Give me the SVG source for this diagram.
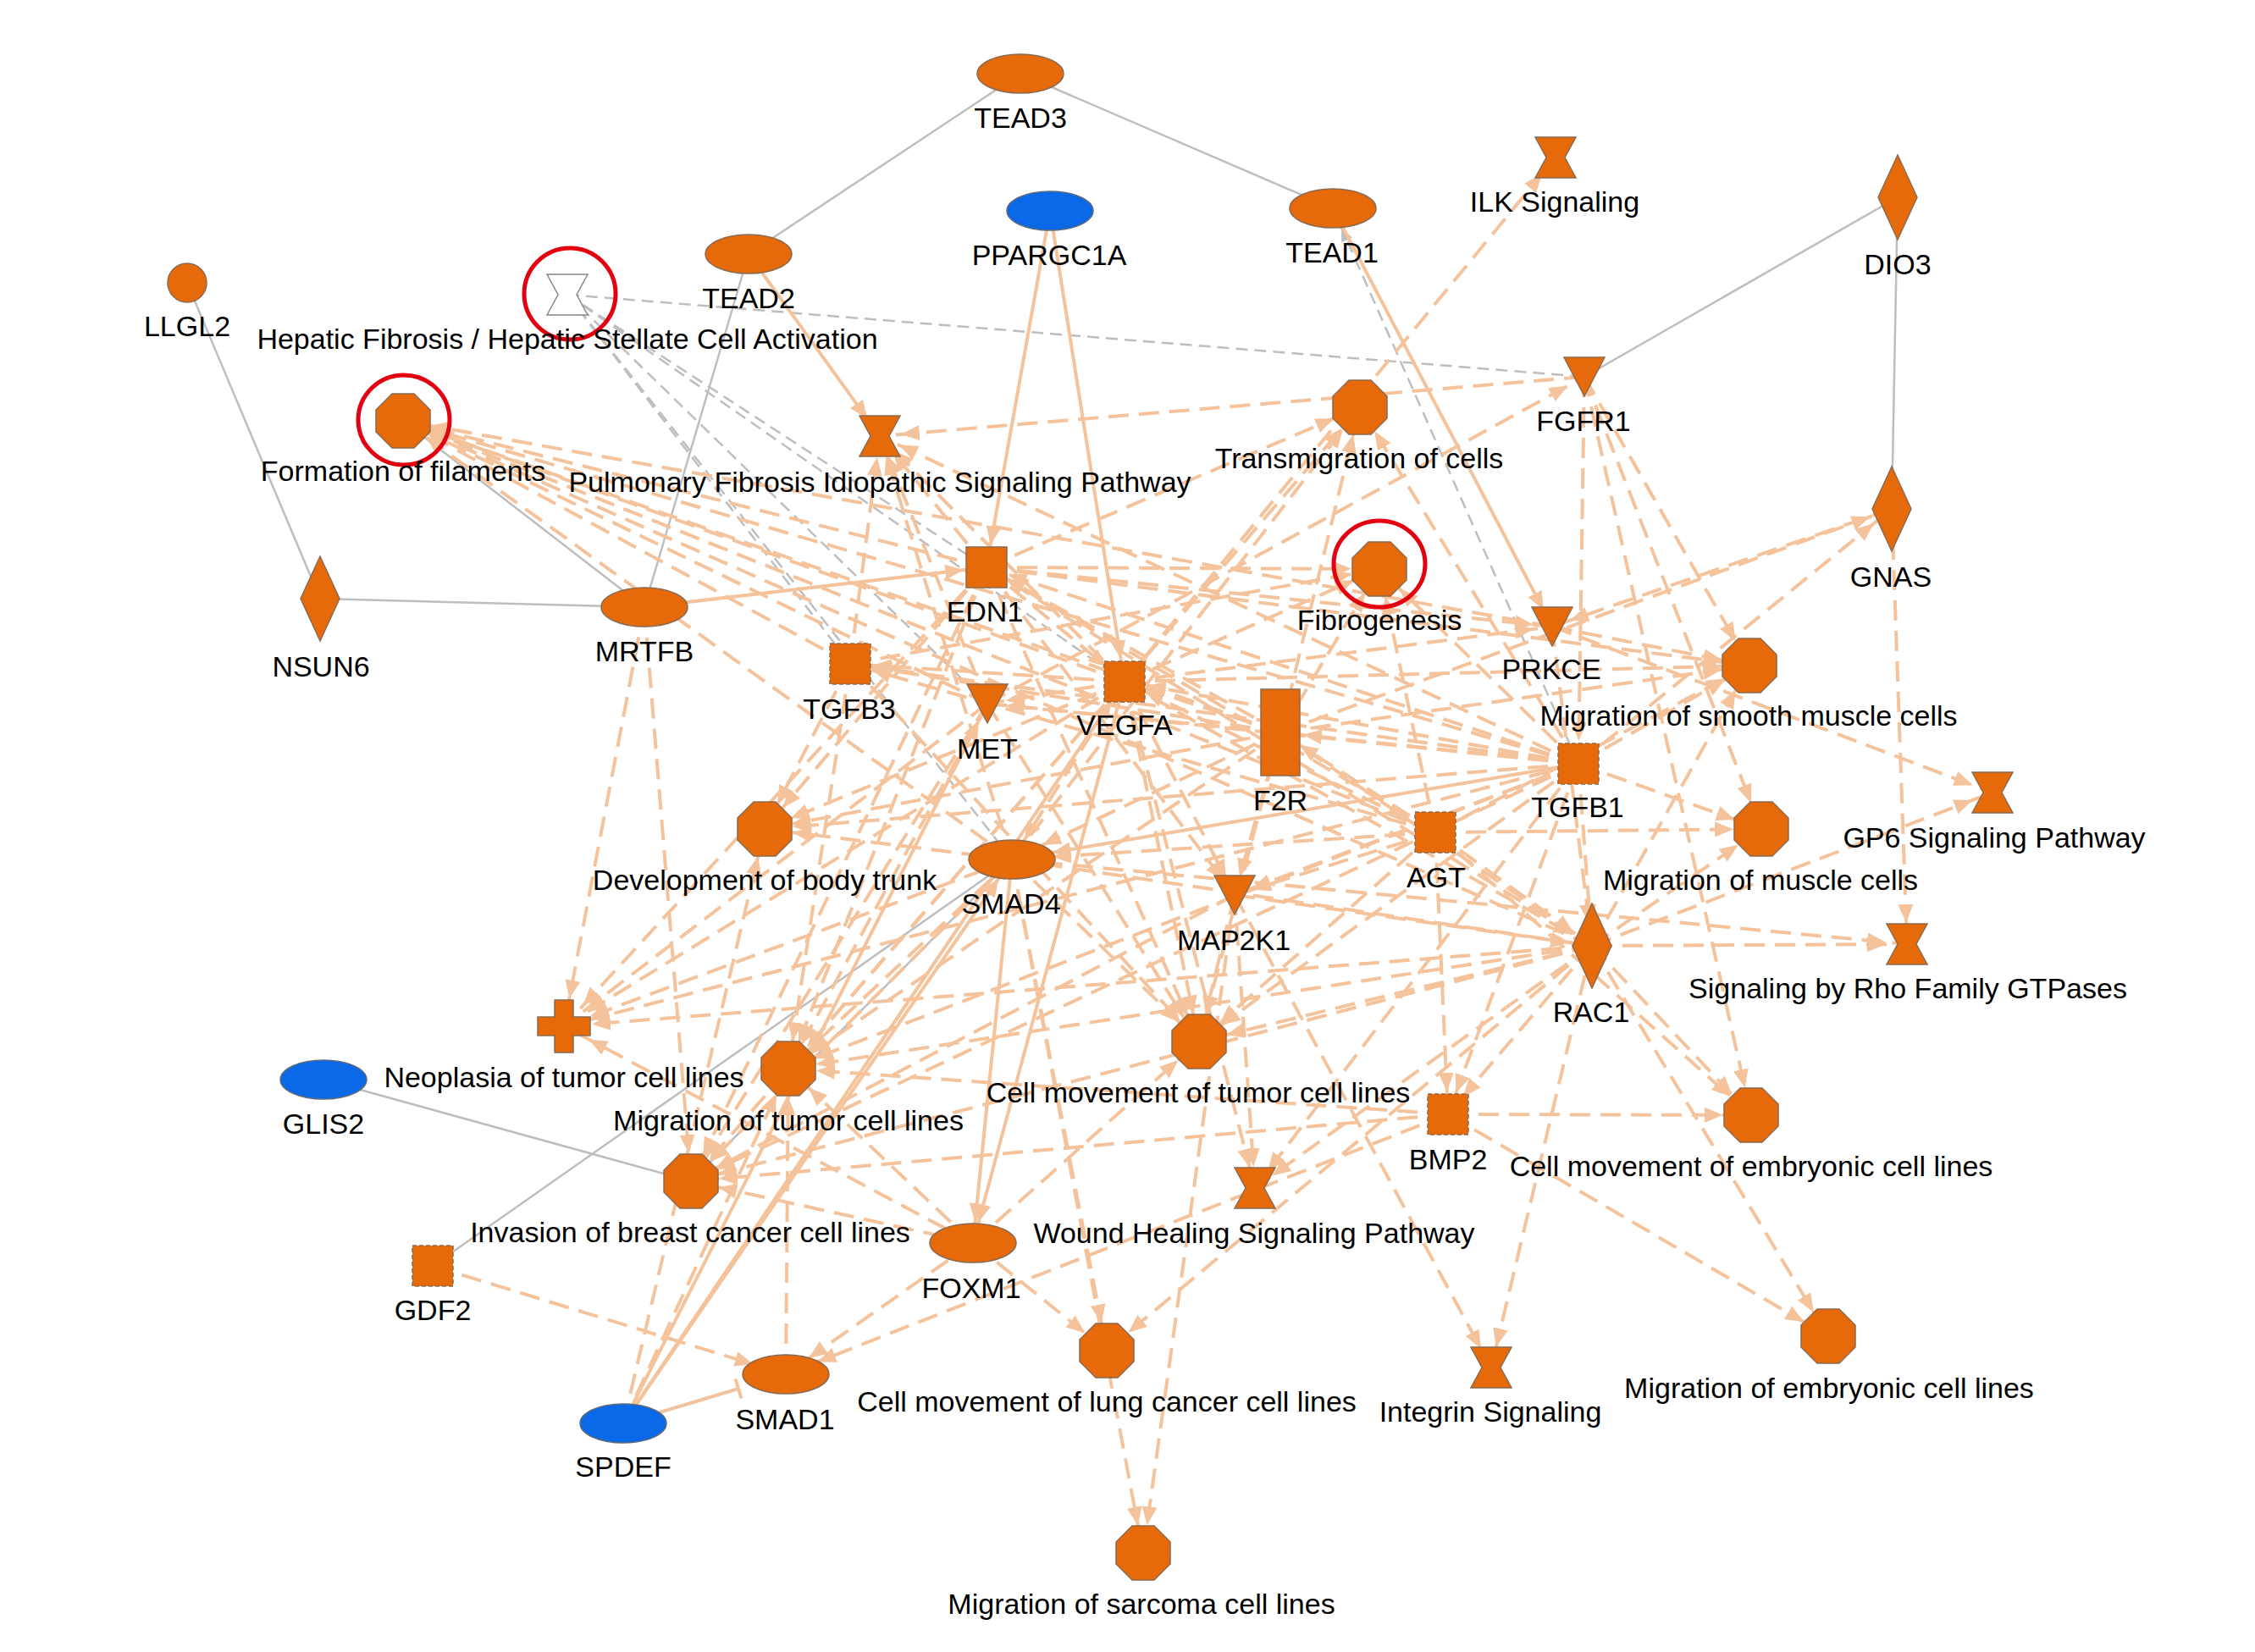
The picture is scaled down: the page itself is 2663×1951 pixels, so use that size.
<svg xmlns="http://www.w3.org/2000/svg" xmlns:xlink="http://www.w3.org/1999/xlink" width="2663" height="1951" viewBox="0 0 2663 1951">
<style>
.n{fill:#E66A0A;stroke:#8A6A50;stroke-width:1.5}
.nb{fill:#0A69E6;stroke:#5A6A80;stroke-width:1.5}
.nw{fill:#FFFFFF;stroke:#888888;stroke-width:1.5}
.db{stroke-dasharray:5,3}
.lbl{font-family:"Liberation Sans",Arial,sans-serif;font-size:34px;text-anchor:middle;fill:#000}
.s{stroke:#F5C39B;stroke-width:4;fill:none}
.d{stroke:#F5C39B;stroke-width:4;stroke-dasharray:24,12;fill:none}
.g{stroke:#BEBEBE;stroke-width:2.5;fill:none}
.gd{stroke:#BEBEBE;stroke-width:2.5;stroke-dasharray:14,8;fill:none}
.ring{fill:none;stroke:#E3000F;stroke-width:5}
</style>
<defs>
<marker id="a22" markerUnits="userSpaceOnUse" viewBox="0 -10 70 20" markerWidth="70" markerHeight="20" refX="44" refY="0" orient="auto"><path d="M0,-9L22,0L0,9z" fill="#F5C39B"/></marker>
<marker id="a25" markerUnits="userSpaceOnUse" viewBox="0 -10 70 20" markerWidth="70" markerHeight="20" refX="47" refY="0" orient="auto"><path d="M0,-9L22,0L0,9z" fill="#F5C39B"/></marker>
<marker id="a27" markerUnits="userSpaceOnUse" viewBox="0 -10 70 20" markerWidth="70" markerHeight="20" refX="49" refY="0" orient="auto"><path d="M0,-9L22,0L0,9z" fill="#F5C39B"/></marker>
<marker id="a33" markerUnits="userSpaceOnUse" viewBox="0 -10 70 20" markerWidth="70" markerHeight="20" refX="55" refY="0" orient="auto"><path d="M0,-9L22,0L0,9z" fill="#F5C39B"/></marker>
<marker id="a40" markerUnits="userSpaceOnUse" viewBox="0 -10 70 20" markerWidth="70" markerHeight="20" refX="62" refY="0" orient="auto"><path d="M0,-9L22,0L0,9z" fill="#F5C39B"/></marker>
<marker id="a48" markerUnits="userSpaceOnUse" viewBox="0 -10 80 20" markerWidth="80" markerHeight="20" refX="70" refY="0" orient="auto"><path d="M0,-9L22,0L0,9z" fill="#F5C39B"/></marker>
<marker id="ga25" markerUnits="userSpaceOnUse" viewBox="0 -10 70 20" markerWidth="70" markerHeight="20" refX="41" refY="0" orient="auto"><path d="M0,-7L16,0L0,7z" fill="#BEBEBE"/></marker>
<marker id="tbar" markerUnits="userSpaceOnUse" viewBox="-5 -14 10 28" markerWidth="10" markerHeight="28" refX="0" refY="0" orient="auto"><path d="M0,-12L0,12" stroke="#F5C39B" stroke-width="4"/></marker>
<polygon id="oct" points="-13,-32 13,-32 32,-13 32,13 13,32 -13,32 -32,13 -32,-13"/>
<rect id="sq" x="-24" y="-24" width="48" height="48"/>
<ellipse id="ell" cx="0" cy="0" rx="51" ry="23"/>
<polygon id="hg" points="-24,-24 24,-24 11,0 24,24 -24,24 -11,0"/>
<polygon id="tri" points="-24,-23 24,-23 0,23"/>
<polygon id="dia" points="0,-50 23,0 0,50 -23,0"/>
<polygon id="cross" points="-11,-31 11,-31 11,-11 31,-11 31,11 11,11 11,31 -11,31 -11,11 -31,11 -31,-11 -11,-11"/>
</defs>
<rect width="2663" height="1951" fill="#FFFFFF"/>
<g id="connectors">
<g class="g">
<line x1="1205" y1="87" x2="884" y2="300"/>
<line x1="1205" y1="87" x2="1574" y2="246"/>
<line x1="221" y1="334" x2="378" y2="707"/>
<line x1="378" y1="707" x2="761" y2="717"/>
<line x1="476" y1="497" x2="761" y2="717"/>
<line x1="884" y1="300" x2="761" y2="717"/>
<line x1="2241" y1="233" x2="1871" y2="445"/>
<line x1="2241" y1="233" x2="2234" y2="601"/>
<line x1="382" y1="1275" x2="816" y2="1395"/>
<line x1="511" y1="1495" x2="1195" y2="1015"/>
<line x1="1195" y1="1015" x2="816" y2="1395"/>
</g>
<g class="gd">
<line x1="670" y1="348" x2="1871" y2="445"/>
<line x1="670" y1="348" x2="1004" y2="784"/>
<line x1="670" y1="348" x2="1166" y2="831"/>
<line x1="670" y1="348" x2="1195" y2="1015"/>
<line x1="670" y1="348" x2="1165" y2="670"/>
<line x1="670" y1="348" x2="1328" y2="805"/>
<line x1="1864" y1="902" x2="1574" y2="246" marker-end="url(#ga25)"/>
</g>
<g class="d" marker-end="url(#a33)">
<line x1="1165" y1="670" x2="476" y2="497"/>
<line x1="1328" y1="805" x2="476" y2="497"/>
<line x1="1512" y1="865" x2="476" y2="497"/>
<line x1="1864" y1="902" x2="476" y2="497"/>
<line x1="1695" y1="983" x2="476" y2="497"/>
<line x1="1880" y1="1117" x2="476" y2="497"/>
<line x1="1004" y1="784" x2="476" y2="497"/>
<line x1="1195" y1="1015" x2="476" y2="497"/>
<line x1="1833" y1="740" x2="476" y2="497"/>
<line x1="1166" y1="831" x2="476" y2="497"/>
<line x1="1328" y1="805" x2="1606" y2="481"/>
<line x1="1165" y1="670" x2="1606" y2="481"/>
<line x1="1512" y1="865" x2="1606" y2="481"/>
<line x1="1864" y1="902" x2="1606" y2="481"/>
<line x1="1195" y1="1015" x2="1606" y2="481"/>
<line x1="1165" y1="670" x2="1629" y2="672"/>
<line x1="1328" y1="805" x2="1629" y2="672"/>
<line x1="1864" y1="902" x2="1629" y2="672"/>
<line x1="1512" y1="865" x2="1629" y2="672"/>
<line x1="1695" y1="983" x2="1629" y2="672"/>
<line x1="1004" y1="784" x2="1629" y2="672"/>
<line x1="1871" y1="445" x2="2066" y2="786"/>
<line x1="1833" y1="740" x2="2066" y2="786"/>
<line x1="1864" y1="902" x2="2066" y2="786"/>
<line x1="1880" y1="1117" x2="2066" y2="786"/>
<line x1="1695" y1="983" x2="2066" y2="786"/>
<line x1="1512" y1="865" x2="2066" y2="786"/>
<line x1="1165" y1="670" x2="2066" y2="786"/>
<line x1="1328" y1="805" x2="2066" y2="786"/>
<line x1="1871" y1="445" x2="2080" y2="979"/>
<line x1="1864" y1="902" x2="2080" y2="979"/>
<line x1="1880" y1="1117" x2="2080" y2="979"/>
<line x1="1695" y1="983" x2="2080" y2="979"/>
<line x1="1710" y1="1316" x2="2068" y2="1317"/>
<line x1="1880" y1="1117" x2="2068" y2="1317"/>
<line x1="1871" y1="445" x2="2068" y2="1317"/>
<line x1="1695" y1="983" x2="2068" y2="1317"/>
<line x1="1880" y1="1117" x2="2159" y2="1578"/>
<line x1="1710" y1="1316" x2="2159" y2="1578"/>
<line x1="1880" y1="1117" x2="1307" y2="1595"/>
<line x1="1149" y1="1468" x2="1307" y2="1595"/>
<line x1="1195" y1="1015" x2="1307" y2="1595"/>
<line x1="1195" y1="1015" x2="1350" y2="1834"/>
<line x1="1458" y1="1057" x2="1350" y2="1834"/>
<line x1="1710" y1="1316" x2="816" y2="1395"/>
<line x1="1880" y1="1117" x2="816" y2="1395"/>
<line x1="761" y1="717" x2="816" y2="1395"/>
<line x1="1328" y1="805" x2="816" y2="1395"/>
<line x1="1165" y1="670" x2="816" y2="1395"/>
<line x1="1195" y1="1015" x2="816" y2="1395"/>
<line x1="1166" y1="831" x2="816" y2="1395"/>
<line x1="1149" y1="1468" x2="816" y2="1395"/>
<line x1="1864" y1="902" x2="816" y2="1395"/>
<line x1="1458" y1="1057" x2="816" y2="1395"/>
<line x1="1710" y1="1316" x2="931" y2="1262"/>
<line x1="1880" y1="1117" x2="931" y2="1262"/>
<line x1="1512" y1="865" x2="931" y2="1262"/>
<line x1="1328" y1="805" x2="931" y2="1262"/>
<line x1="1165" y1="670" x2="931" y2="1262"/>
<line x1="1195" y1="1015" x2="931" y2="1262"/>
<line x1="1166" y1="831" x2="931" y2="1262"/>
<line x1="1864" y1="902" x2="931" y2="1262"/>
<line x1="1149" y1="1468" x2="931" y2="1262"/>
<line x1="928" y1="1623" x2="931" y2="1262"/>
<line x1="1004" y1="784" x2="931" y2="1262"/>
<line x1="736" y1="1681" x2="931" y2="1262"/>
<line x1="1880" y1="1117" x2="1416" y2="1230"/>
<line x1="1864" y1="902" x2="1416" y2="1230"/>
<line x1="1695" y1="983" x2="1416" y2="1230"/>
<line x1="1458" y1="1057" x2="1416" y2="1230"/>
<line x1="1328" y1="805" x2="1416" y2="1230"/>
<line x1="1165" y1="670" x2="1416" y2="1230"/>
<line x1="1512" y1="865" x2="1416" y2="1230"/>
<line x1="1195" y1="1015" x2="1416" y2="1230"/>
<line x1="1149" y1="1468" x2="1416" y2="1230"/>
<line x1="1166" y1="831" x2="1416" y2="1230"/>
<line x1="1004" y1="784" x2="1416" y2="1230"/>
<line x1="1880" y1="1117" x2="666" y2="1212"/>
<line x1="1328" y1="805" x2="666" y2="1212"/>
<line x1="1165" y1="670" x2="666" y2="1212"/>
<line x1="1195" y1="1015" x2="666" y2="1212"/>
<line x1="761" y1="717" x2="666" y2="1212"/>
<line x1="1166" y1="831" x2="666" y2="1212"/>
<line x1="1149" y1="1468" x2="666" y2="1212"/>
<line x1="1864" y1="902" x2="666" y2="1212"/>
<line x1="1165" y1="670" x2="903" y2="979"/>
<line x1="1328" y1="805" x2="903" y2="979"/>
<line x1="1004" y1="784" x2="903" y2="979"/>
<line x1="1195" y1="1015" x2="903" y2="979"/>
<line x1="1512" y1="865" x2="903" y2="979"/>
<line x1="1864" y1="902" x2="903" y2="979"/>
<line x1="736" y1="1681" x2="903" y2="979"/>
<line x1="1149" y1="1468" x2="928" y2="1623"/>
</g>
<g class="d" marker-end="url(#a25)">
<line x1="1871" y1="445" x2="1039" y2="515"/>
<line x1="1004" y1="784" x2="1039" y2="515"/>
<line x1="1165" y1="670" x2="1039" y2="515"/>
<line x1="1328" y1="805" x2="1039" y2="515"/>
<line x1="1195" y1="1015" x2="1039" y2="515"/>
<line x1="1166" y1="831" x2="1039" y2="515"/>
<line x1="1864" y1="902" x2="1039" y2="515"/>
<line x1="1328" y1="805" x2="1837" y2="186"/>
<line x1="1833" y1="740" x2="2353" y2="936"/>
<line x1="1880" y1="1117" x2="2353" y2="936"/>
<line x1="2234" y1="601" x2="2252" y2="1115"/>
<line x1="1880" y1="1117" x2="2252" y2="1115"/>
<line x1="1195" y1="1015" x2="2252" y2="1115"/>
<line x1="1880" y1="1117" x2="1761" y2="1615"/>
<line x1="1458" y1="1057" x2="1761" y2="1615"/>
<line x1="1458" y1="1057" x2="1482" y2="1403"/>
<line x1="1328" y1="805" x2="1482" y2="1403"/>
<line x1="1864" y1="902" x2="1482" y2="1403"/>
<line x1="1880" y1="1117" x2="1482" y2="1403"/>
</g>
<g class="d" marker-end="url(#a22)">
<line x1="1166" y1="831" x2="1871" y2="445"/>
<line x1="1165" y1="670" x2="1833" y2="740"/>
<line x1="1328" y1="805" x2="1833" y2="740"/>
<line x1="2234" y1="601" x2="1833" y2="740"/>
<line x1="1328" y1="805" x2="1166" y2="831"/>
<line x1="1512" y1="865" x2="1166" y2="831"/>
<line x1="1864" y1="902" x2="1166" y2="831"/>
<line x1="1512" y1="865" x2="1458" y2="1057"/>
<line x1="1328" y1="805" x2="1458" y2="1057"/>
<line x1="1695" y1="983" x2="1458" y2="1057"/>
<line x1="1864" y1="902" x2="1458" y2="1057"/>
<line x1="1165" y1="670" x2="1458" y2="1057"/>
</g>
<g class="d" marker-end="url(#a27)">
<line x1="1871" y1="445" x2="1864" y2="902"/>
<line x1="1512" y1="865" x2="2234" y2="601"/>
<line x1="1864" y1="902" x2="2234" y2="601"/>
<line x1="1695" y1="983" x2="1710" y2="1316"/>
<line x1="1880" y1="1117" x2="1710" y2="1316"/>
<line x1="1864" y1="902" x2="1710" y2="1316"/>
<line x1="1165" y1="670" x2="1328" y2="805"/>
<line x1="1512" y1="865" x2="1328" y2="805"/>
<line x1="1864" y1="902" x2="1328" y2="805"/>
<line x1="1695" y1="983" x2="1328" y2="805"/>
<line x1="1512" y1="865" x2="1165" y2="670"/>
<line x1="1864" y1="902" x2="1165" y2="670"/>
<line x1="1695" y1="983" x2="1165" y2="670"/>
<line x1="1328" y1="805" x2="1004" y2="784"/>
<line x1="1512" y1="865" x2="1004" y2="784"/>
<line x1="1695" y1="983" x2="1004" y2="784"/>
<line x1="1864" y1="902" x2="1004" y2="784"/>
<line x1="1864" y1="902" x2="1512" y2="865"/>
<line x1="1695" y1="983" x2="1512" y2="865"/>
<line x1="1695" y1="983" x2="1880" y2="1117"/>
<line x1="1864" y1="902" x2="1880" y2="1117"/>
<line x1="1512" y1="865" x2="1880" y2="1117"/>
<line x1="1328" y1="805" x2="1880" y2="1117"/>
<line x1="1458" y1="1057" x2="1880" y2="1117"/>
<line x1="1195" y1="1015" x2="1880" y2="1117"/>
<line x1="1165" y1="670" x2="1880" y2="1117"/>
<line x1="1833" y1="740" x2="1880" y2="1117"/>
<line x1="1328" y1="805" x2="1195" y2="1015"/>
</g>
<g class="d" marker-end="url(#a40)">
<line x1="1710" y1="1316" x2="928" y2="1623"/>
<line x1="511" y1="1495" x2="928" y2="1623"/>
<line x1="1512" y1="865" x2="1195" y2="1015"/>
</g>
<g class="d" marker-end="url(#a48)">
<line x1="1695" y1="983" x2="1195" y2="1015"/>
</g>
<g class="s">
<line x1="884" y1="300" x2="1039" y2="515" marker-end="url(#a25)"/>
<line x1="1240" y1="249" x2="1165" y2="670" marker-end="url(#a27)"/>
<line x1="1240" y1="249" x2="1328" y2="805" marker-end="url(#a27)"/>
<line x1="1574" y1="246" x2="1833" y2="740" marker-end="url(#a22)"/>
<line x1="761" y1="717" x2="1165" y2="670" marker-end="url(#a27)"/>
<line x1="1864" y1="902" x2="1195" y2="1015" marker-end="url(#a48)"/>
<line x1="1195" y1="1015" x2="1149" y2="1468" marker-end="url(#a25)"/>
<line x1="1328" y1="805" x2="1149" y2="1468" marker-end="url(#a25)"/>
<line x1="736" y1="1681" x2="1195" y2="1015" marker-end="url(#a27)"/>
<line x1="736" y1="1681" x2="1166" y2="831" marker-end="url(#a22)"/>
<line x1="736" y1="1681" x2="1328" y2="805" marker-end="url(#a27)"/>
<line x1="736" y1="1681" x2="872" y2="1640" marker-end="url(#tbar)"/>
</g>
</g>
<g id="nodes">
<g id="n-TEAD3"><use href="#ell" x="1205" y="87" class="n"/><text class="lbl" x="1205" y="151">TEAD3</text></g>
<g id="n-PPARGC1A"><use href="#ell" x="1240" y="249" class="nb"/><text class="lbl" x="1239" y="313">PPARGC1A</text></g>
<g id="n-TEAD1"><use href="#ell" x="1574" y="246" class="n"/><text class="lbl" x="1573" y="310">TEAD1</text></g>
<g id="n-ILK"><use href="#hg" x="1837" y="186" class="n"/><text class="lbl" x="1836" y="250">ILK Signaling</text></g>
<g id="n-DIO3"><use href="#dia" x="2241" y="233" class="n"/><text class="lbl" x="2241" y="324">DIO3</text></g>
<g id="n-LLGL2"><circle cx="221" cy="334" r="23" class="n"/><text class="lbl" x="221" y="397">LLGL2</text></g>
<g id="n-TEAD2"><use href="#ell" x="884" y="300" class="n"/><text class="lbl" x="884" y="364">TEAD2</text></g>
<g id="n-HEPATIC"><use href="#hg" x="670" y="348" class="nw"/><ellipse cx="673" cy="347" rx="54" ry="54" class="ring"/><text class="lbl" x="670" y="412">Hepatic Fibrosis / Hepatic Stellate Cell Activation</text></g>
<g id="n-FGFR1"><use href="#tri" x="1871" y="445" class="n"/><text class="lbl" x="1870" y="509">FGFR1</text></g>
<g id="n-FILAMENTS"><use href="#oct" x="476" y="497" class="n"/><ellipse cx="477" cy="496" rx="54" ry="53" class="ring"/><text class="lbl" x="476" y="568">Formation of filaments</text></g>
<g id="n-PULMONARY"><use href="#hg" x="1039" y="515" class="n"/><text class="lbl" x="1039" y="581">Pulmonary Fibrosis Idiopathic Signaling Pathway</text></g>
<g id="n-TRANSMIG"><use href="#oct" x="1606" y="481" class="n"/><text class="lbl" x="1605" y="553">Transmigration of cells</text></g>
<g id="n-GNAS"><use href="#dia" x="2234" y="601" class="n"/><text class="lbl" x="2233" y="693">GNAS</text></g>
<g id="n-NSUN6"><use href="#dia" x="378" y="707" class="n"/><text class="lbl" x="379" y="799">NSUN6</text></g>
<g id="n-MRTFB"><use href="#ell" x="761" y="717" class="n"/><text class="lbl" x="761" y="781">MRTFB</text></g>
<g id="n-EDN1"><use href="#sq" x="1165" y="670" class="n"/><text class="lbl" x="1163" y="734">EDN1</text></g>
<g id="n-FIBRO"><use href="#oct" x="1629" y="672" class="n"/><ellipse cx="1629" cy="666" rx="54" ry="51" class="ring"/><text class="lbl" x="1629" y="744">Fibrogenesis</text></g>
<g id="n-PRKCE"><use href="#tri" x="1833" y="740" class="n"/><text class="lbl" x="1832" y="802">PRKCE</text></g>
<g id="n-SMOOTH"><use href="#oct" x="2066" y="786" class="n"/><text class="lbl" x="2065" y="857">Migration of smooth muscle cells</text></g>
<g id="n-TGFB3"><use href="#sq" x="1004" y="784" class="n db"/><text class="lbl" x="1003" y="849">TGFB3</text></g>
<g id="n-MET"><use href="#tri" x="1166" y="831" class="n"/><text class="lbl" x="1166" y="896">MET</text></g>
<g id="n-VEGFA"><use href="#sq" x="1328" y="805" class="n db"/><text class="lbl" x="1328" y="868">VEGFA</text></g>
<g id="n-F2R"><rect x="1489" y="814" width="46" height="102" class="n"/><text class="lbl" x="1512" y="957">F2R</text></g>
<g id="n-TGFB1"><use href="#sq" x="1864" y="902" class="n db"/><text class="lbl" x="1863" y="965">TGFB1</text></g>
<g id="n-GP6"><use href="#hg" x="2353" y="936" class="n"/><text class="lbl" x="2355" y="1001">GP6 Signaling Pathway</text></g>
<g id="n-TRUNK"><use href="#oct" x="903" y="979" class="n"/><text class="lbl" x="903" y="1051">Development of body trunk</text></g>
<g id="n-SMAD4"><use href="#ell" x="1195" y="1015" class="n"/><text class="lbl" x="1194" y="1079">SMAD4</text></g>
<g id="n-AGT"><use href="#sq" x="1695" y="983" class="n db"/><text class="lbl" x="1696" y="1048">AGT</text></g>
<g id="n-MUSCLE"><use href="#oct" x="2080" y="979" class="n"/><text class="lbl" x="2079" y="1051">Migration of muscle cells</text></g>
<g id="n-MAP2K1"><use href="#tri" x="1458" y="1057" class="n"/><text class="lbl" x="1457" y="1122">MAP2K1</text></g>
<g id="n-RAC1"><use href="#dia" x="1880" y="1117" class="n"/><text class="lbl" x="1879" y="1207">RAC1</text></g>
<g id="n-RHO"><use href="#hg" x="2252" y="1115" class="n"/><text class="lbl" x="2253" y="1179">Signaling by Rho Family GTPases</text></g>
<g id="n-NEOPLASIA"><use href="#cross" x="666" y="1212" class="n"/><text class="lbl" x="666" y="1284">Neoplasia of tumor cell lines</text></g>
<g id="n-GLIS2"><use href="#ell" x="382" y="1275" class="nb"/><text class="lbl" x="382" y="1339">GLIS2</text></g>
<g id="n-TUMORMIG"><use href="#oct" x="931" y="1262" class="n"/><text class="lbl" x="931" y="1335">Migration of tumor cell lines</text></g>
<g id="n-CELLMOVTUMOR"><use href="#oct" x="1416" y="1230" class="n"/><text class="lbl" x="1415" y="1302">Cell movement of tumor cell lines</text></g>
<g id="n-BMP2"><use href="#sq" x="1710" y="1316" class="n db"/><text class="lbl" x="1710" y="1381">BMP2</text></g>
<g id="n-EMBRYOMOV"><use href="#oct" x="2068" y="1317" class="n"/><text class="lbl" x="2068" y="1389">Cell movement of embryonic cell lines</text></g>
<g id="n-INVASION"><use href="#oct" x="816" y="1395" class="n"/><text class="lbl" x="815" y="1467">Invasion of breast cancer cell lines</text></g>
<g id="n-WOUND"><use href="#hg" x="1482" y="1403" class="n"/><text class="lbl" x="1481" y="1468">Wound Healing Signaling Pathway</text></g>
<g id="n-FOXM1"><use href="#ell" x="1149" y="1468" class="n"/><text class="lbl" x="1147" y="1533">FOXM1</text></g>
<g id="n-GDF2"><use href="#sq" x="511" y="1495" class="n db"/><text class="lbl" x="511" y="1559">GDF2</text></g>
<g id="n-LUNG"><use href="#oct" x="1307" y="1595" class="n"/><text class="lbl" x="1307" y="1667">Cell movement of lung cancer cell lines</text></g>
<g id="n-INTEGRIN"><use href="#hg" x="1761" y="1615" class="n"/><text class="lbl" x="1760" y="1679">Integrin Signaling</text></g>
<g id="n-EMBRYOMIG"><use href="#oct" x="2159" y="1578" class="n"/><text class="lbl" x="2160" y="1651">Migration of embryonic cell lines</text></g>
<g id="n-SMAD1"><use href="#ell" x="928" y="1623" class="n"/><text class="lbl" x="927" y="1688">SMAD1</text></g>
<g id="n-SPDEF"><use href="#ell" x="736" y="1681" class="nb"/><text class="lbl" x="736" y="1744">SPDEF</text></g>
<g id="n-SARCOMA"><use href="#oct" x="1350" y="1834" class="n"/><text class="lbl" x="1348" y="1906">Migration of sarcoma cell lines</text></g>
</g>
</svg>
